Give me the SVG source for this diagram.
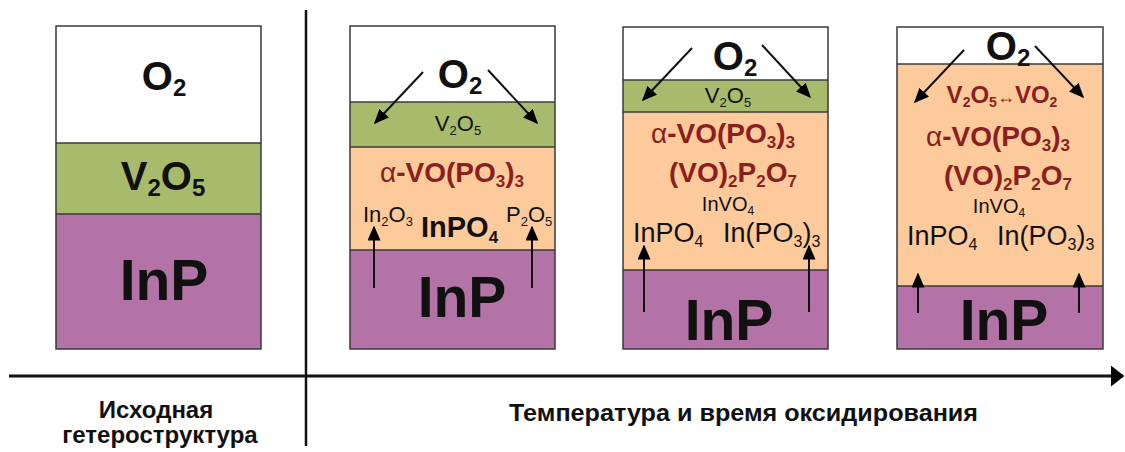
<svg xmlns="http://www.w3.org/2000/svg" width="1125" height="452" viewBox="0 0 1125 452">
<defs>
<marker id="ah" viewBox="0 0 10 10" refX="9" refY="5" markerWidth="7.5" markerHeight="6.5" orient="auto" markerUnits="strokeWidth" preserveAspectRatio="none">
<path d="M0,0 L10,5 L0,10 z" fill="#000"/>
</marker>
<marker id="axh" viewBox="0 0 10 10" refX="9" refY="5" markerWidth="4.5" markerHeight="7" orient="auto" markerUnits="strokeWidth" preserveAspectRatio="none">
<path d="M0,0 L10,5 L0,10 z" fill="#000"/>
</marker>
</defs>
<style>
.b{fill:none;stroke:#3a3a3a;stroke-width:1.5}
.ln{stroke:#3a3a3a;stroke-width:1.5}
.w{fill:#fff}
.g{fill:#a8bb6c}
.p{fill:#b373a7}
.o{fill:#fdcb9b}
text{font-family:"Liberation Sans",Arial,sans-serif;fill:#111}
.big{font-weight:bold;font-size:40px}
.inp{font-weight:bold;font-size:57px}
.red{font-weight:bold;font-size:28px;fill:#8b1f1f}
.reg{font-size:22px}
.mid{text-anchor:middle}
.arr{stroke:#111;stroke-width:2;fill:none;marker-end:url(#ah)}
.ax{font-weight:bold;font-size:24px}
</style>
<rect width="1125" height="452" fill="#fff"/>

<g id="panel1">
<rect class="w" x="56" y="26" width="205" height="117"/>
<rect class="g" x="56" y="143" width="205" height="71"/>
<rect class="p" x="56" y="214" width="205" height="135"/>
<line class="ln" x1="56" y1="143" x2="261" y2="143"/>
<line class="ln" x1="56" y1="214" x2="261" y2="214"/>
<rect class="b" x="56" y="26" width="205" height="323"/>
<text class="big mid" x="164" y="90">O<tspan font-size="24" dy="6">2</tspan></text>
<text class="mid" x="163" y="190" font-weight="bold" font-size="40">V<tspan font-size="24" dy="6">2</tspan><tspan dy="-6">O</tspan><tspan font-size="24" dy="6">5</tspan></text>
<text class="inp mid" x="164" y="300">InP</text>
</g>

<g id="panel2">
<rect class="w" x="350" y="26" width="205" height="76"/>
<rect class="g" x="350" y="102" width="205" height="45"/>
<rect class="o" x="350" y="147" width="205" height="103"/>
<rect class="p" x="350" y="250" width="205" height="99"/>
<line class="ln" x1="350" y1="102" x2="555" y2="102"/>
<line class="ln" x1="350" y1="147" x2="555" y2="147"/>
<line class="ln" x1="350" y1="250" x2="555" y2="250"/>
<rect class="b" x="350" y="26" width="205" height="323"/>
<text class="big mid" x="460" y="88">O<tspan font-size="24" dy="6">2</tspan></text>
<text class="reg mid" x="458" y="131">V<tspan font-size="13" dy="4">2</tspan><tspan dy="-4">O</tspan><tspan font-size="13" dy="4">5</tspan></text>
<text class="red mid" x="452" y="182"><tspan font-weight="normal">α</tspan>-VO(PO<tspan font-size="17" dy="5">3</tspan><tspan dy="-5">)</tspan><tspan font-size="17" dy="5">3</tspan></text>
<text class="reg" x="363" y="222">In<tspan font-size="13" dy="4">2</tspan><tspan dy="-4">O</tspan><tspan font-size="13" dy="4">3</tspan></text>
<text x="421" y="237" font-weight="bold" font-size="29">InPO<tspan font-size="17" dy="6">4</tspan></text>
<text class="reg" x="506" y="222">P<tspan font-size="13" dy="4">2</tspan><tspan dy="-4">O</tspan><tspan font-size="13" dy="4">5</tspan></text>
<text class="inp mid" x="462" y="317">InP</text>
</g>

<g id="panel3">
<rect class="w" x="623" y="27" width="205" height="53"/>
<rect class="g" x="623" y="80" width="205" height="32"/>
<rect class="o" x="623" y="112" width="205" height="158"/>
<rect class="p" x="623" y="270" width="205" height="79"/>
<line class="ln" x1="623" y1="80" x2="828" y2="80"/>
<line class="ln" x1="623" y1="112" x2="828" y2="112"/>
<line class="ln" x1="623" y1="270" x2="828" y2="270"/>
<rect class="b" x="623" y="27" width="205" height="322"/>
<text class="big mid" x="735" y="70">O<tspan font-size="24" dy="6">2</tspan></text>
<text class="reg mid" x="728" y="103">V<tspan font-size="13" dy="4">2</tspan><tspan dy="-4">O</tspan><tspan font-size="13" dy="4">5</tspan></text>
<text class="red mid" x="723" y="143"><tspan font-weight="normal">α</tspan>-VO(PO<tspan font-size="17" dy="5">3</tspan><tspan dy="-5">)</tspan><tspan font-size="17" dy="5">3</tspan></text>
<text class="red mid" x="733" y="182">(VO)<tspan font-size="17" dy="5">2</tspan><tspan dy="-5">P</tspan><tspan font-size="17" dy="5">2</tspan><tspan dy="-5">O</tspan><tspan font-size="17" dy="5">7</tspan></text>
<text class="mid" x="728" y="211" font-size="20">InVO<tspan font-size="12" dy="4">4</tspan></text>
<text x="633" y="242" font-size="27">InPO<tspan font-size="16" dy="5">4</tspan></text>
<text x="723" y="242" font-size="27">In(PO<tspan font-size="16" dy="5">3</tspan><tspan dy="-5">)</tspan><tspan font-size="16" dy="5">3</tspan></text>
<text class="inp mid" x="729" y="340">InP</text>
</g>

<g id="panel4">
<rect class="w" x="897" y="27" width="206" height="37"/>
<rect class="o" x="897" y="64" width="206" height="222"/>
<rect class="p" x="897" y="286" width="206" height="63"/>
<line class="ln" x1="897" y1="64" x2="1103" y2="64"/>
<line class="ln" x1="897" y1="286" x2="1103" y2="286"/>
<rect class="b" x="897" y="27" width="206" height="322"/>
<text class="big mid" x="1008" y="60">O<tspan font-size="24" dy="6">2</tspan></text>
<text class="mid" x="1002" y="103" font-weight="bold" font-size="24" style="fill:#8b1f1f">V<tspan font-size="14" dy="4">2</tspan><tspan dy="-4">O</tspan><tspan font-size="14" dy="4">5</tspan><tspan dy="-4" font-size="18" font-weight="normal">↔</tspan>VO<tspan font-size="14" dy="4">2</tspan></text>
<text class="red mid" x="998" y="146"><tspan font-weight="normal">α</tspan>-VO(PO<tspan font-size="17" dy="5">3</tspan><tspan dy="-5">)</tspan><tspan font-size="17" dy="5">3</tspan></text>
<text class="red mid" x="1008" y="185">(VO)<tspan font-size="17" dy="5">2</tspan><tspan dy="-5">P</tspan><tspan font-size="17" dy="5">2</tspan><tspan dy="-5">O</tspan><tspan font-size="17" dy="5">7</tspan></text>
<text class="mid" x="999" y="213" font-size="20">InVO<tspan font-size="12" dy="4">4</tspan></text>
<text x="907" y="245" font-size="27">InPO<tspan font-size="16" dy="5">4</tspan></text>
<text x="997" y="245" font-size="27">In(PO<tspan font-size="16" dy="5">3</tspan><tspan dy="-5">)</tspan><tspan font-size="16" dy="5">3</tspan></text>
<text class="inp mid" x="1004" y="340">InP</text>
</g>

<g id="axis-labels">
<text class="ax mid" x="156" y="418">Исходная</text>
<text class="ax mid" x="160" y="443">гетероструктура</text>
<text class="ax" x="509" y="421" textLength="469" lengthAdjust="spacingAndGlyphs">Температура и время оксидирования</text>
</g>

<g id="connectors">
<line class="arr" x1="423" y1="72" x2="375" y2="123"/>
<line class="arr" x1="488" y1="70" x2="537" y2="123"/>
<line class="arr" x1="374" y1="288" x2="374" y2="227"/>
<line class="arr" x1="532" y1="288" x2="532" y2="227"/>
<line class="arr" x1="692" y1="48" x2="643" y2="100"/>
<line class="arr" x1="762" y1="45" x2="810" y2="97"/>
<line class="arr" x1="644" y1="312" x2="644" y2="246"/>
<line class="arr" x1="809" y1="312" x2="809" y2="246"/>
<line class="arr" x1="964" y1="50" x2="915" y2="102"/>
<line class="arr" x1="1035" y1="46" x2="1083" y2="97"/>
<line class="arr" x1="918" y1="313" x2="918" y2="274"/>
<line class="arr" x1="1079" y1="313" x2="1079" y2="274"/>
<line x1="9" y1="376" x2="1123" y2="376" stroke="#111" stroke-width="3" marker-end="url(#axh)"/>
<line x1="306" y1="10" x2="306" y2="446" stroke="#111" stroke-width="2.5"/>
</g>
</svg>
